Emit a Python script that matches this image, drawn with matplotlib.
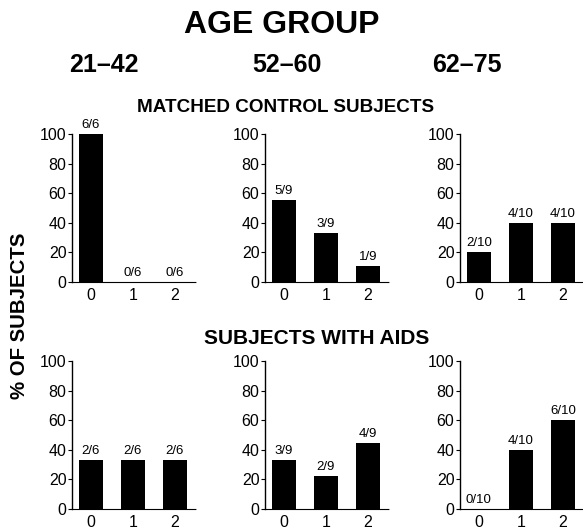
import matplotlib.pyplot as plt

plt.rcParams['font.family'] = ['Liberation Sans', 'DejaVu Sans']

ages = ['21\u201342', '52\u201360', '62\u201375']
cats = [0, 1, 2]

# % of subjects, matched controls
ctrl = [[100, 0, 0], [55.6, 33.3, 11.1], [20, 40, 40]]
ctrl_lab = [['6/6', '0/6', '0/6'], ['5/9', '3/9', '1/9'], ['2/10', '4/10', '4/10']]

# % of subjects, AIDS
aids = [[33.3, 33.3, 33.3], [33.3, 22.2, 44.4], [0, 40, 60]]
aids_lab = [['2/6', '2/6', '2/6'], ['3/9', '2/9', '4/9'], ['0/10', '4/10', '6/10']]

W, H = 583, 529
fig = plt.figure(figsize=(W / 100, H / 100), dpi=100)

lefts = [72, 265, 460]
aw = 124
rows = [(282, ctrl, ctrl_lab), (509, aids, aids_lab)]

for y0, vals, labs in rows:
    for i in range(3):
        ax = fig.add_axes([lefts[i] / W, 1 - y0 / H, aw / W, 148 / H])
        ax.bar(cats, vals[i], width=0.57, color='black')
        for x, v, s in zip(cats, vals[i], labs[i]):
            ax.text(x, v + 2, s, ha='center', va='bottom', fontsize=9.5)
        ax.set_xlim(-0.45, 2.5)
        ax.set_ylim(0, 100)
        ax.set_yticks([0, 20, 40, 60, 80, 100])
        ax.set_xticks(cats)
        ax.spines['top'].set_visible(False)
        ax.spines['right'].set_visible(False)
        ax.spines['left'].set_linewidth(1.0)
        ax.spines['bottom'].set_linewidth(0.8)
        ax.spines['bottom'].set_linestyle((0, (3, 1)))
        ax.tick_params(axis='y', length=3, width=0.8, pad=1, labelsize=11.5)
        ax.tick_params(axis='x', length=0, pad=4, labelsize=11.5)

fig.text(282 / W, 1 - 25 / H, 'AGE GROUP', ha='center', va='center',
         fontsize=23, fontweight='bold')
for x, a in zip([104, 287, 467], ages):
    fig.text(x / W, 1 - 65 / H, a, ha='center', va='center',
             fontsize=18, fontweight='bold')
fig.text(286 / W, 1 - 108 / H, 'MATCHED CONTROL SUBJECTS', ha='center',
         va='center', fontsize=13.6, fontweight='bold')
fig.text(317 / W, 1 - 338 / H, 'SUBJECTS WITH AIDS', ha='center',
         va='center', fontsize=15, fontweight='bold')
fig.text(20 / W, 1 - 316 / H, '% OF SUBJECTS', ha='center', va='center',
         rotation=90, fontsize=14.7, fontweight='bold')

fig.savefig('out.png', dpi=100)
